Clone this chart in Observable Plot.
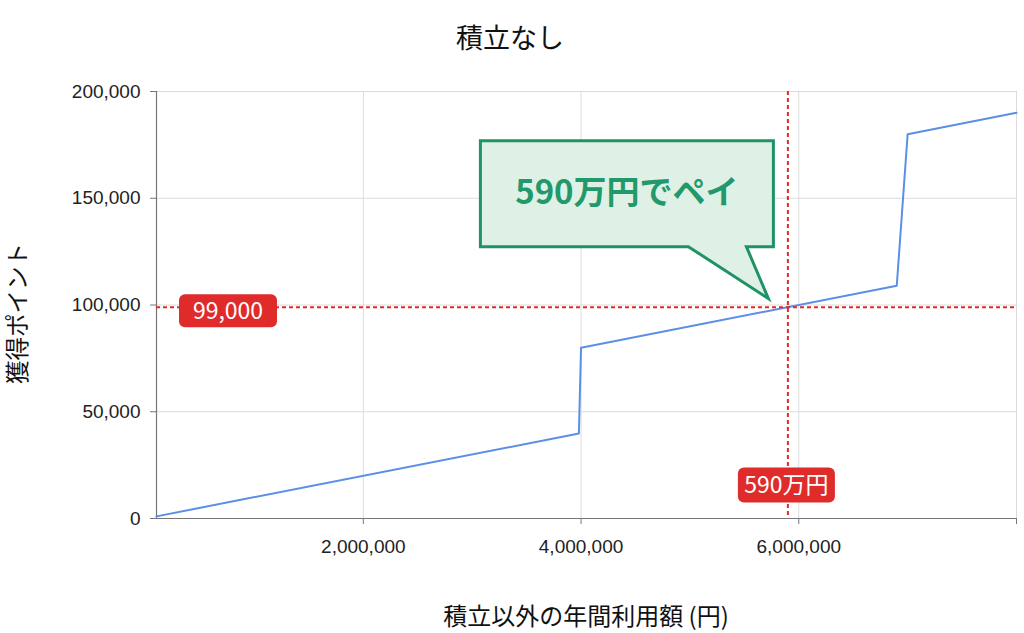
<!DOCTYPE html>
<html>
<head>
<meta charset="utf-8">
<script src="https://cdn.jsdelivr.net/npm/d3@7"></script>
<script src="https://cdn.jsdelivr.net/npm/@observablehq/plot@0.6"></script>
<style>
  html, body { margin: 0; padding: 0; background: #fff; }
  #chart { width: 1024px; height: 633px; }
</style>
</head>
<body>
<div id="chart"></div>
<script>
// ---- data ----
const spend  = [100000, 3980000, 4000000, 6900000, 7000000, 8000000];
const points = [1000, 39800, 80000, 109000, 180000, 190000];
const xTicks = [2000000, 4000000, 6000000, 8000000];
const yTicks = [0, 50000, 100000, 150000, 200000];
const xDomain = [100000, 8000000];
const yDomain = [0, 200000];
const payX = 5900000;
const payY = 99000;
const payXLabel = "590万円";
const payYLabel = "99,000";
const calloutText = "590万円でペイ";
const titleText = "積立なし";
const xLabelText = "積立以外の年間利用額 (円)";
const yLabelText = "獲得ポイント";

const data = spend.map((s, i) => ({spend: s, points: points[i]}));
const fmt = d3.format(",");
const JP = "'Noto Sans CJK JP', 'Noto Sans', sans-serif";
const RED = "#e02b2b";
const GREEN = "#1f9366";

function annotations(index, scales, values, dim) {
  const {x, y} = scales;
  const px = x(payX), py = y(payY);
  const g = d3.create("svg:g");
  const fl = dim.marginLeft, fr = dim.width - dim.marginRight;
  const ft = dim.marginTop, fb = dim.height - dim.marginBottom;

  // title
  g.append("text").attr("x", dim.width / 2 - 2).attr("y", ft - 52)
    .attr("text-anchor", "middle").attr("dy", "0.35em")
    .attr("font-family", JP).attr("font-size", 27).attr("fill", "#111").text(titleText);
  // x label
  g.append("text").attr("x", (fl + fr) / 2).attr("y", fb + 99)
    .attr("text-anchor", "middle").attr("dy", "0.35em")
    .attr("font-family", JP).attr("font-size", 24).attr("fill", "#111").text(xLabelText);
  // y label
  g.append("text").attr("transform", `translate(${18},${(ft + fb) / 2 + 9}) rotate(-90)`)
    .attr("text-anchor", "middle").attr("dy", "0.35em")
    .attr("font-family", JP).attr("font-size", 23.5).attr("fill", "#111").text(yLabelText);

  // red label boxes
  function redLabel(cx, cy, w, h, txt) {
    g.append("rect").attr("x", cx - w / 2).attr("y", cy - h / 2).attr("width", w).attr("height", h)
      .attr("rx", 6).attr("fill", RED);
    g.append("text").attr("x", cx).attr("y", cy).attr("dy", "0.36em").attr("text-anchor", "middle")
      .attr("font-family", JP).attr("font-size", 23).attr("fill", "#fff").text(txt);
  }
  redLabel(fl + 72, py + 4, 98, 33, payYLabel);
  redLabel(px - 1, fb - 33, 97, 35, payXLabel);

  // callout bubble
  const L = px - 307, R = px - 14, T = py - 166, B = py - 60;
  const bl = px - 99, br = px - 41, tipX = px - 19, tipY = py - 8;
  g.append("path")
    .attr("d", `M${L},${T}L${R},${T}L${R},${B}L${br},${B}L${tipX},${tipY}L${bl},${B}L${L},${B}Z`)
    .attr("fill", "#dff1e7").attr("stroke", GREEN).attr("stroke-width", 3).attr("stroke-linejoin", "miter");
  g.append("text").attr("x", (L + R) / 2).attr("y", (T + B) / 2 - 2).attr("dy", "0.36em")
    .attr("text-anchor", "middle").attr("font-family", JP).attr("font-weight", "bold")
    .attr("font-size", 33).attr("fill", "#22996a").text(calloutText);
  return g.node();
}

const chart = Plot.plot({
  width: 1024,
  height: 633,
  marginTop: 91,
  marginBottom: 115,
  marginLeft: 156,
  marginRight: 8,
  style: {fontFamily: "'Liberation Sans', Arial, sans-serif", fontSize: "19px", background: "#fff", color: "#222"},
  x: {type: "linear", domain: xDomain},
  y: {type: "linear", domain: yDomain},
  marks: [
    Plot.gridY(yTicks, {stroke: "#dcdcdc", strokeOpacity: 1}),
    Plot.gridX(xTicks, {stroke: "#dcdcdc", strokeOpacity: 1}),
    Plot.axisY(yTicks, {tickSize: 6, tickPadding: 10, tickFormat: fmt, fontSize: 19, label: null, stroke: "#777", fill: "#222"}),
    Plot.axisX(xTicks, {tickSize: 6, tickPadding: 15, tickFormat: d => d === 8000000 ? "" : fmt(d), fontSize: 19, label: null, stroke: "#777", fill: "#222"}),
    Plot.ruleX([xDomain[0]], {stroke: "#777", strokeWidth: 1.2}),
    Plot.ruleY([0], {stroke: "#777", strokeWidth: 1.2}),
    Plot.line(data, {x: "spend", y: "points", stroke: "#5b8fe6", strokeWidth: 2}),
    Plot.ruleY([payY], {stroke: RED, strokeWidth: 2, strokeDasharray: "4,3"}),
    Plot.ruleX([payX], {stroke: RED, strokeWidth: 2, strokeDasharray: "4,3"}),
    annotations
  ]
});
document.getElementById("chart").appendChild(chart);
</script>
</body>
</html>
